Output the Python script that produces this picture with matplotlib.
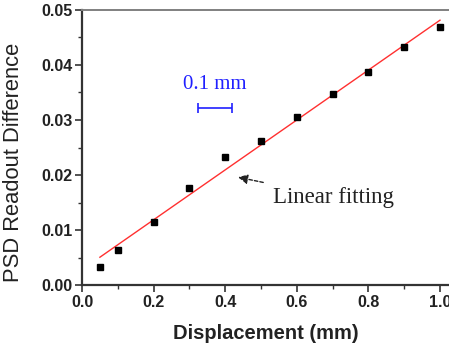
import matplotlib
matplotlib.use("Agg")
import matplotlib.pyplot as plt
import numpy as np
from matplotlib.ticker import MultipleLocator, FormatStrFormatter

displacement = [0.05, 0.1, 0.2, 0.3, 0.4, 0.5, 0.6, 0.7, 0.8, 0.9, 1.0]
psd_diff = [0.0033, 0.0064, 0.0115, 0.0176, 0.0233, 0.0262, 0.0305, 0.0347, 0.0387, 0.0433, 0.0469]
x_ticks = [0.0, 0.2, 0.4, 0.6, 0.8, 1.0]
y_ticks = [0.00, 0.01, 0.02, 0.03, 0.04, 0.05]

slope, intercept = np.polyfit(displacement, psd_diff, 1)
fit_x = np.array([displacement[0], displacement[-1]])
fit_y = slope * fit_x + intercept

W, H = 449, 351
fig = plt.figure(figsize=(W / 100, H / 100), dpi=100)
x0, x1 = 82, 449
y0, y1 = 285, 10
ax = fig.add_axes([x0 / W, (H - y0) / H, (x1 - x0) / W, (y0 - y1) / H])

ax.plot(fit_x, fit_y, color="#ff3030", lw=1.0, zorder=2)
ax.plot(displacement, psd_diff, ls="none", marker="s", ms=4.6, color="black", zorder=3)

ax.set_xlim(0, (x1 - x0) / 358.0)
ax.set_ylim(0, 0.05)
ax.set_xticks(x_ticks)
ax.set_yticks(y_ticks)
ax.xaxis.set_minor_locator(MultipleLocator(0.1))
ax.yaxis.set_minor_locator(MultipleLocator(0.005))
ax.xaxis.set_major_formatter(FormatStrFormatter("%.1f"))
ax.yaxis.set_major_formatter(FormatStrFormatter("%.2f"))

for s in ["left", "bottom"]:
    ax.spines[s].set_color("#333333")
    ax.spines[s].set_linewidth(1.6)
ax.spines["top"].set_color("#808080")
ax.spines["top"].set_linewidth(1.4)
ax.spines["right"].set_visible(False)

ax.tick_params(which="major", direction="out", length=5, width=1.2, color="#333333",
               top=False, right=False, pad=2)
ax.tick_params(which="minor", direction="out", length=3, width=1.0, color="#333333",
               top=False, right=False)
for lbl in ax.get_xticklabels() + ax.get_yticklabels():
    lbl.set_fontfamily("Liberation Sans")
    lbl.set_fontweight("bold")
    lbl.set_fontsize(11.5)
    lbl.set_color("#222222")

ax.set_xlabel("Displacement (mm)", fontfamily="Liberation Sans", fontweight="bold",
              fontsize=14.5, color="#222222", labelpad=10)
ax.set_ylabel("PSD Readout Difference", fontfamily="Liberation Sans",
              fontsize=15.8, color="#222222")
ax.yaxis.set_label_coords(-0.157, (285 - 162) / 275.0)

# scale bar
ax.errorbar([0.372], [0.0322], xerr=[0.048], fmt="none", ecolor="#2020ff",
            elinewidth=1.2, capsize=3.5, capthick=1.2)
ax.text(0.372, 0.0364, "0.1 mm", color="#2020ff", fontfamily="Liberation Serif",
        fontsize=15, ha="center", va="center")

# annotation
ax.annotate("Linear fitting", xy=(0.436, 0.0196), xytext=(0.533, 0.0160),
            fontfamily="Liberation Serif", fontsize=16.5, color="#222222",
            ha="left", va="center",
            arrowprops=dict(arrowstyle="-|>", linestyle=(0, (2.5, 1.5)), color="#222222",
                            lw=1.0, mutation_scale=14, shrinkA=5, shrinkB=0))

fig.savefig("out.png", dpi=100)
